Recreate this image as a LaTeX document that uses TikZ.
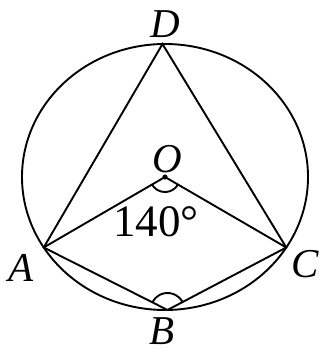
\documentclass[tikz,border=0pt]{standalone}
\usepackage{fontspec}
\setmainfont{Liberation Serif}
\usetikzlibrary{angles}
\begin{document}
\begin{tikzpicture}[x=1pt, y=1pt,
  line/.style={line width=1.9pt},
  lbl/.style={inner sep=0pt, font=\fontsize{41}{48}\selectfont\itshape},
  deg/.style={inner sep=0pt, font=\fontsize{45}{50}\selectfont}
]
\useasboundingbox (0,0) rectangle (323,354);
\coordinate (O) at (165,177);
\foreach \name/\ang in {D/91,A/212,B/271,C/328}
  \path (O) ++(\ang:143 and 133) coordinate (\name);
% circle and chords
\draw[line] (O) ellipse [x radius=143, y radius=133];
\draw[line] (A) -- (D) -- (C) -- (B) -- cycle;
\draw[line] (A) -- (O) -- (C);
\fill (O) circle (2.6);
% angle marks
\pic[draw, line, angle radius=15pt] {angle=A--O--C};
\pic[draw, line, angle radius=17pt] {angle=C--B--A};
% labels
\node[lbl] (lD) at (165,330) {D};
\node[lbl] (lO) at (167,195) {O};
\node[lbl] (lA) at (21,86) {A};
\node[lbl] (lC) at (305,90) {C};
\node[lbl] (lB) at (162,23) {B};
\node[deg] (l140) at (156,132) {140°};
\end{tikzpicture}
\end{document}
